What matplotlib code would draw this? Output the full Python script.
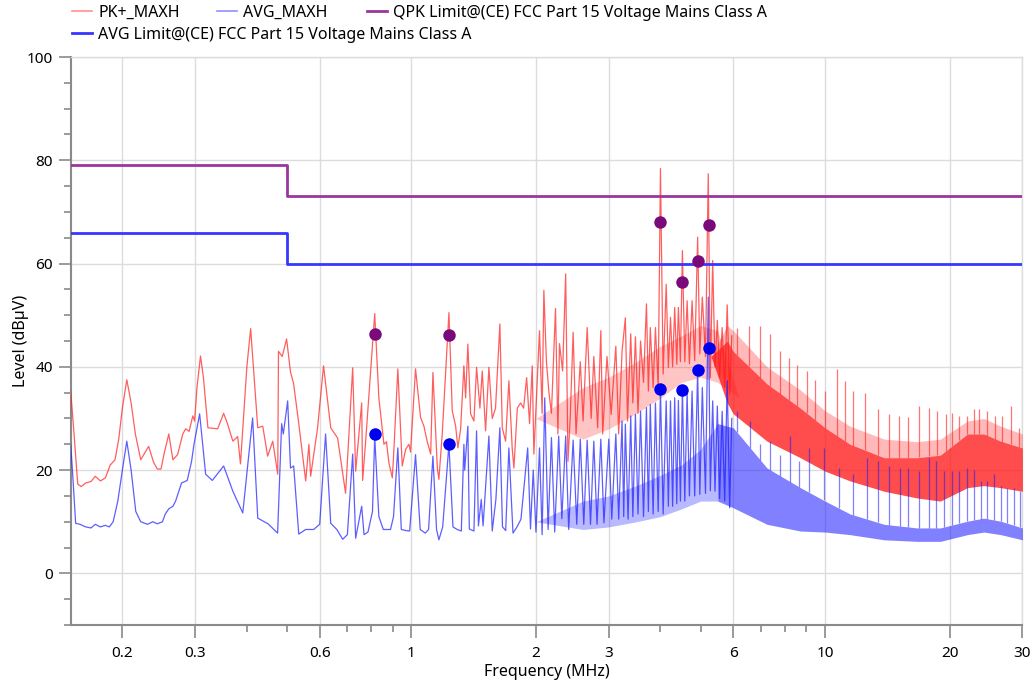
import numpy as np
import matplotlib.pyplot as plt
from matplotlib.lines import Line2D

plt.rcParams['font.family'] = ['Noto Sans', 'DejaVu Sans']

# PK+ max-hold trace (MHz, dBuV)
pk_freq = [0.150, 0.1525, 0.156, 0.159, 0.163, 0.168, 0.172, 0.177, 0.182, 0.187,
           0.192, 0.196, 0.200, 0.205, 0.210, 0.215, 0.2215, 0.2315, 0.238, 0.243,
           0.248, 0.252, 0.259, 0.265, 0.272, 0.280, 0.2845, 0.290, 0.296, 0.299,
           0.303, 0.309, 0.314, 0.322, 0.340, 0.3515, 0.359, 0.370, 0.380, 0.386,
           0.400, 0.4085, 0.425, 0.437, 0.449, 0.462, 0.475, 0.477, 0.487, 0.499,
           0.510, 0.519, 0.534, 0.555, 0.565, 0.5705, 0.593, 0.613, 0.638, 0.663,
           0.693, 0.721, 0.733, 0.758, 0.762, 0.775, 0.815, 0.834, 0.858, 0.870,
           0.882, 0.899, 0.907, 0.927, 0.950, 0.968, 0.986, 0.995, 1.023, 1.052,
           1.072, 1.092, 1.113, 1.127, 1.155, 1.165, 1.187, 1.232, 1.255, 1.279,
           1.295, 1.315, 1.339, 1.352, 1.369, 1.390, 1.416, 1.437, 1.464, 1.483,
           1.511, 1.539, 1.568, 1.597, 1.636, 1.658, 1.689, 1.720, 1.753, 1.769,
           1.803, 1.836, 1.867, 1.899, 1.930, 1.959, 1.977, 2.04, 2.07, 2.09,
           2.12, 2.15, 2.18, 2.23, 2.26, 2.28, 2.32, 2.36, 2.39, 2.42,
           2.46, 2.50, 2.56, 2.60, 2.66, 2.72, 2.76, 2.82, 2.87, 2.90,
           2.97, 3.04, 3.12, 3.17, 3.23, 3.29, 3.33, 3.39, 3.43, 3.48,
           3.53, 3.58, 3.64, 3.70, 3.74, 3.78, 3.84, 3.89, 3.95, 4.00,
           4.06, 4.13, 4.18, 4.23, 4.28, 4.33, 4.38, 4.42, 4.47, 4.52,
           4.58, 4.64, 4.70, 4.77, 4.84, 4.92, 4.98, 5.05, 5.14, 5.22,
           5.28, 5.35, 5.42, 5.49, 5.56, 5.64, 5.72, 5.80, 5.88, 5.95]
pk_level = [35.3, 28, 17.3, 16.8, 17.5, 17.8, 18.8, 17.9, 18.5, 21,
            22, 26, 32, 37.5, 33, 27, 22, 24.6, 21.5, 20.2,
            20.2, 23, 27, 22, 23, 27, 28, 27.5, 30.5, 29.5,
            36, 42.1, 38, 28.2, 28, 31, 29, 25.6, 26.5, 21.2,
            40, 47.4, 28.2, 28.5, 22.7, 25.6, 19.2, 43, 42, 45.4,
            39, 36.7, 29, 17.9, 25, 18.8, 28.2, 40.2, 28.2, 26.2,
            15.5, 39.8, 19.8, 33, 18, 25.6, 50.3, 34, 25, 25.5,
            21.4, 18.5, 24, 39.6, 20.8, 24, 25, 23.5, 39.6, 30.2,
            28.5, 25.5, 23.1, 38.9, 20.4, 18.2, 27, 50.5, 31.5, 28.5,
            24.3, 28, 40.2, 34, 44.4, 30.9, 29.5, 39.9, 32, 39.2,
            27.6, 39.9, 30, 32, 48.3, 28.2, 25.6, 37.3, 24, 20.4,
            32, 33, 32, 37.9, 29, 40.2, 23.1, 47, 31, 54.8,
            41, 35, 31, 51.3, 27, 44.5, 39.2, 58, 21.7, 30,
            46.7, 27, 41, 29.5, 47.6, 30, 42, 28.2, 47, 27,
            42, 30.8, 44, 27, 43, 49.5, 29.5, 46.4, 33, 45.8,
            31, 45, 37, 52.2, 35.3, 47.6, 36, 47.6, 36, 78.4,
            38.6, 56, 39.9, 49.6, 40, 51.5, 40.5, 51.5, 41, 62.5,
            41, 52.8, 40.6, 52.8, 41.2, 65.1, 42.5, 53.5, 42, 77.4,
            37.9, 60.6, 40, 49, 38, 47.6, 36, 52, 34.7, 46]

# AVG max-hold trace
avg_freq = [0.150, 0.152, 0.1542, 0.158, 0.163, 0.168, 0.172, 0.177, 0.182, 0.186,
            0.190, 0.195, 0.200, 0.205, 0.210, 0.2155, 0.2215, 0.230, 0.237, 0.243,
            0.250, 0.254, 0.259, 0.265, 0.269, 0.278, 0.287, 0.294, 0.298, 0.3075,
            0.318, 0.330, 0.3515, 0.370, 0.391, 0.413, 0.425, 0.450, 0.4747, 0.4854,
            0.490, 0.502, 0.510, 0.519, 0.534, 0.555, 0.580, 0.600, 0.620, 0.638,
            0.660, 0.682, 0.700, 0.721, 0.733, 0.758, 0.768, 0.785, 0.805, 0.815,
            0.834, 0.855, 0.890, 0.905, 0.927, 0.945, 0.968, 0.990, 1.023, 1.050,
            1.080, 1.100, 1.127, 1.150, 1.165, 1.190, 1.232, 1.260, 1.290, 1.320,
            1.339, 1.345, 1.369, 1.380, 1.416, 1.437, 1.452, 1.475, 1.490, 1.539,
            1.568, 1.600, 1.636, 1.660, 1.690, 1.720, 1.760, 1.800, 1.840, 1.910,
            1.940, 1.970, 2.00, 2.04, 2.07, 2.10, 2.14, 2.18, 2.22, 2.27,
            2.31, 2.36, 2.40, 2.46, 2.51, 2.56, 2.61, 2.66, 2.71, 2.76,
            2.81, 2.87, 2.92, 3.00, 3.05, 3.12, 3.17, 3.23, 3.26, 3.29,
            3.34, 3.39, 3.43, 3.48, 3.53, 3.58, 3.64, 3.70, 3.74, 3.78,
            3.84, 3.89, 3.95, 4.00, 4.06, 4.13, 4.18, 4.23, 4.28, 4.33,
            4.38, 4.42, 4.47, 4.52, 4.58, 4.64, 4.70, 4.77, 4.84, 4.92,
            4.98, 5.05, 5.14, 5.22, 5.28, 5.35, 5.42, 5.49, 5.56, 5.64,
            5.72, 5.80, 5.88, 5.95]
avg_level = [25, 18, 9.7, 9.5, 9.0, 8.8, 9.5, 9.0, 9.3, 9.0,
             10, 14, 20, 25.6, 20, 12, 10, 9.5, 10, 9.6,
             10, 11.5, 12.5, 13, 14, 17.5, 18, 21.7, 25, 30.9,
             19.2, 18, 20.8, 15.9, 11.7, 30.1, 10.7, 9.6, 7.8, 29,
             27, 33.4, 20.4, 20.8, 7.6, 8.5, 8.5, 9.5, 27, 9.7,
             8.5, 6.6, 7.5, 23.1, 6.8, 13, 7.5, 8, 12, 26.5,
             11, 8.5, 8.5, 11, 24.3, 8.5, 8.3, 8.2, 23, 8.5,
             7.8, 8.5, 22.7, 8.5, 6.5, 9, 25, 9, 8.5, 8.2,
             25, 20, 28.5, 8.6, 8.2, 27.6, 9.2, 14.3, 9.2, 26.6,
             8.2, 14.3, 28.2, 9, 8.3, 24.3, 7.8, 9, 10.5, 24.3,
             8.6, 20, 8.0, 24.3, 7.5, 34, 8.5, 26.3, 8, 26.6,
             10.6, 26.6, 8.5, 25.8, 9.5, 26, 9.5, 25.8, 9.5, 25.6,
             9.5, 26, 9.8, 26, 10.5, 27, 10.5, 29.5, 11, 28.9,
             10.5, 30.5, 11, 30.8, 11.5, 31.4, 11, 32.1, 12, 32.7,
             11.5, 33, 12, 35.7, 11.5, 33.4, 13, 33.4, 13, 34,
             13.5, 33.5, 14, 35.5, 14, 35, 15, 35.3, 15, 39.4,
             15.3, 36, 15.5, 53.5, 16, 33.4, 15.9, 32.4, 14.5, 31.4,
             14, 37.3, 12.7, 30]

# 2-6 MHz: busy floor under the harmonics (lower / upper edge)
pk_floor_freq = [2.0, 2.6, 3.0, 3.5, 4.0, 4.5, 5.0, 5.5, 6.2]
pk_floor_lo = [30, 26, 28, 31, 34, 37, 38, 37, 34]
pk_floor_hi = [30, 36, 38, 41, 44, 46, 48, 47, 34]
avg_floor_freq = [2.0, 2.6, 3.0, 3.5, 4.0, 4.5, 5.0, 5.5]
avg_floor_lo = [10, 8.5, 9, 10, 11, 12.5, 14, 14]
avg_floor_hi = [10, 14, 15, 17, 19, 21, 24, 29]

# above ~5.5 MHz the traces merge into a solid band: lower / upper edge,
# plus the lighter fringe on top of the PK+ band
pk_band_freq = [5.3, 5.8, 6.0, 7.24, 8.72, 10.0, 11.5, 13.9, 16.7, 19.0, 22.1, 24.2, 26.6, 30.0]
pk_band_hi = [42, 45, 43, 36.7, 32, 28.2, 25, 22.4, 22.4, 22.9, 27, 27, 25.6, 24.3]
pk_band_lo = [42, 33, 30.9, 25.6, 22.4, 19.8, 17.9, 15.9, 14.6, 14, 16.6, 17, 16.6, 15.9]
pk_fringe = [42, 48, 47, 40, 35.5, 31.5, 28.5, 26, 25.5, 26, 29.5, 30, 28.5, 27]
avg_band_freq = [5.5, 6.0, 7.24, 8.72, 10.0, 11.5, 13.9, 16.7, 19.0, 22.1, 24.2, 26.6, 30.0]
avg_band_hi = [29, 28.2, 20.4, 16.6, 14, 11.5, 9.5, 8.8, 8.8, 10.1, 10.7, 10.1, 8.8]
avg_band_lo = [14, 12.7, 9.5, 8.2, 8.0, 7.5, 6.5, 6.2, 6.2, 7.5, 8.0, 7.5, 6.5]

# spikes sticking out of the band
pk_spike_freq = [6.13, 6.54, 6.98, 7.38, 7.80, 8.17, 8.56, 9.05, 9.48, 10.0,
                 10.7, 11.2, 11.7, 12.5, 13.4, 14.3, 15.1, 15.9, 16.9, 17.8,
                 18.7, 19.6, 20.3, 21.1, 22.1, 22.9, 23.5, 24.7, 25.8, 26.8,
                 28.1, 29.4]
pk_spike_level = [47.6, 47.9, 47.9, 46.4, 43.1, 41.8, 40.3, 39.2, 37.5, 35.3,
                  39.5, 37.3, 35.3, 35, 31.8, 30.8, 30.5, 30.2, 32.4, 32,
                  31.4, 30.8, 31.1, 30.5, 30.5, 31.8, 31.8, 31.4, 30.5, 30.5,
                  32.4, 28.2]
avg_spike_freq = [6.13, 6.60, 6.98, 7.38, 7.80, 8.25, 8.64, 9.13, 9.93, 10.8,
                  11.7, 12.6, 13.4, 14.3, 15.2, 15.9, 16.9, 17.8, 18.5, 19.4,
                  20.3, 21.1, 22.1, 22.9, 23.8, 24.7, 25.6, 26.6, 27.6, 28.6,
                  29.6]
avg_spike_level = [31.4, 29.5, 25, 25.6, 23, 26.6, 21.7, 24.3, 24.3, 20.4,
                   19.2, 22.4, 21.7, 20.8, 20.4, 20.4, 19.8, 22.4, 21.7, 19.8,
                   19.8, 19.8, 20.4, 20.1, 17.9, 17.9, 19.2, 16.9, 16.6, 16.6,
                   15.9]

# final QPK / CAV measurements
meas_freq = [0.815, 1.232, 4.00, 4.52, 4.92, 5.24]
qpk_level = [46.4, 46.1, 68.0, 56.5, 60.4, 67.5]
cav_level = [27.0, 25.0, 35.8, 35.5, 39.4, 43.6]

# FCC Part 15 class A limits
lim_freq = [0.15, 0.5, 0.5, 30]
qpk_limit = [79, 79, 73, 73]
avg_limit = [66, 66, 60, 60]

red = "#ff1a1a"
blue = "#1a1aff"
purple_lim = "#9b369b"
blue_lim = "#3737ff"
fs = 11.5

fig = plt.figure(figsize=(10.35, 6.86), dpi=100)
ax = fig.add_axes([0.0683, 0.0889, 0.9195, 0.828])

# PK+ trace
ax.fill_between(pk_floor_freq, pk_floor_lo, pk_floor_hi, color=red, alpha=0.25, lw=0, zorder=2)
ax.plot(pk_freq, pk_level, color=red, lw=0.9, alpha=0.7, zorder=3)
ax.fill_between(pk_band_freq, pk_band_hi, pk_fringe, color=red, alpha=0.3, lw=0, zorder=3)
ax.fill_between(pk_band_freq, pk_band_lo, pk_band_hi, color=red, alpha=0.78, lw=0, zorder=3)
base = np.interp(np.log10(pk_spike_freq), np.log10(pk_band_freq), pk_band_hi)
ax.vlines(pk_spike_freq, base, pk_spike_level, color=red, lw=0.9, alpha=0.6, zorder=3)

# AVG trace
ax.fill_between(avg_floor_freq, avg_floor_lo, avg_floor_hi, color=blue, alpha=0.3, lw=0, zorder=2)
ax.plot(avg_freq, avg_level, color=blue, lw=0.9, alpha=0.7, zorder=4)
ax.fill_between(avg_band_freq, avg_band_lo, avg_band_hi, color=blue, alpha=0.55, lw=0, zorder=4)
base = np.interp(np.log10(avg_spike_freq), np.log10(avg_band_freq), avg_band_hi)
ax.vlines(avg_spike_freq, base, avg_spike_level, color=blue, lw=0.9, alpha=0.55, zorder=4)

# limit lines
ax.plot(lim_freq, qpk_limit, color=purple_lim, lw=2, zorder=5)
ax.plot(lim_freq, avg_limit, color=blue_lim, lw=2, zorder=5)

# measurement points
ax.plot(meas_freq, qpk_level, "o", color="#7a0a7a", ms=9, mec="none", zorder=6)
ax.plot(meas_freq, cav_level, "o", color="#0000f0", ms=9, mec="none", zorder=6)

ax.set_xscale("log")
ax.set_xlim(0.15, 30)
ax.set_ylim(-10, 100)

ax.set_xticks([0.2, 0.3, 0.6, 1, 2, 3, 6, 10, 20, 30])
ax.set_xticklabels(["0.2", "0.3", "0.6", "1", "2", "3", "6", "10", "20", "30"])
ax.set_xticks([0.4, 0.5, 0.7, 0.8, 0.9, 4, 5, 7, 8, 9], minor=True)
ax.xaxis.set_minor_formatter(plt.NullFormatter())
ax.set_yticks([0, 20, 40, 60, 80, 100])
ax.set_yticks(np.arange(-10, 100, 5), minor=True)

ax.tick_params(which="major", length=9, width=1.2, color="#8a8a8a", labelsize=11, pad=4)
ax.tick_params(which="minor", length=5, width=1.2, color="#8a8a8a")
ax.tick_params(axis="x", which="major", pad=6)
ax.grid(True, which="major", color="#dcdcdc", lw=1)

for side in ["left", "bottom"]:
    ax.spines[side].set_color("#8a8a8a")
    ax.spines[side].set_linewidth(1.5)
for side in ["top", "right"]:
    ax.spines[side].set_color("#dcdcdc")
    ax.spines[side].set_linewidth(1)

ax.set_xlabel("Frequency (MHz)", fontsize=fs, labelpad=2)
ax.set_ylabel("Level (dB\u00b5V)", fontsize=fs, labelpad=-2)

# legend: entries placed like the original, three on the first row
entries = [
    (Line2D([], [], color="#ff9090", lw=1.2), "PK+_MAXH", 0.0696, 0.981),
    (Line2D([], [], color="#9090ff", lw=1.2), "AVG_MAXH", 0.2097, 0.981),
    (Line2D([], [], color=purple_lim, lw=2), "QPK Limit@(CE) FCC Part 15 Voltage Mains Class A", 0.3546, 0.981),
    (Line2D([], [], color=blue_lim, lw=2), "AVG Limit@(CE) FCC Part 15 Voltage Mains Class A", 0.0696, 0.949),
]
for h, lab, x0, y0 in entries:
    fig.legend([h], [lab], loc="center left", bbox_to_anchor=(x0, y0), frameon=False,
               fontsize=fs, handlelength=1.25, handletextpad=0.38,
               borderpad=0, borderaxespad=0)

fig.savefig("out.png", dpi=100)
